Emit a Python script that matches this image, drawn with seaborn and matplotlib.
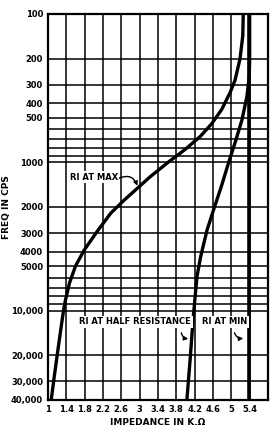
import matplotlib
matplotlib.use("Agg")
import matplotlib.pyplot as plt
import seaborn as sns
import pandas as pd

# ---- data ----
freq_max = [100, 140, 200, 280, 340, 440, 550, 670, 800, 870, 1000, 1250, 1800, 2200,
            2900, 3900, 5000, 6500, 8500, 9900, 14000, 19000, 28000, 40000]
imp_max = [5.26, 5.25, 5.19, 5.08, 4.97, 4.79, 4.57, 4.32, 4.03, 3.88, 3.62, 3.23, 2.66, 2.37,
           2.08, 1.79, 1.60, 1.47, 1.38, 1.34, 1.27, 1.21, 1.135, 1.07]

freq_half = [100, 200, 265, 360, 520, 740, 960, 1460, 2100, 2860, 4330, 5900, 11000, 21500, 40000]
imp_half = [5.40, 5.40, 5.39, 5.34, 5.23, 5.08, 4.96, 4.78, 4.61, 4.47, 4.33, 4.25, 4.17, 4.10, 4.03]

freq_min = [100, 40000]
imp_min = [5.395, 5.395]

x_ticks = [1, 1.4, 1.8, 2.2, 2.6, 3, 3.4, 3.8, 4.2, 4.6, 5, 5.4]
x_labels = ["1", "1.4", "1.8", "2.2", "2.6", "3", "3.4", "3.8", "4.2", "4.6", "5", "5.4"]
y_grid = [100, 200, 300, 400, 500, 600, 700, 800, 900, 1000, 2000, 3000, 4000, 5000,
          6000, 7000, 8000, 9000, 10000, 20000, 30000, 40000]
y_labels = ["100", "200", "300", "400", "500", "", "", "", "", "1000", "2000", "3000", "4000",
            "5000", "", "", "", "", "10,000", "20,000", "30,000", "40,000"]

sns.set_theme(style="white")
plt.rcParams['font.family'] = ['DejaVu Sans']

fig = plt.figure(figsize=(2.78, 4.38), dpi=100)
ax = fig.add_axes([48 / 278, 38 / 438, 220 / 278, 386 / 438])

ax.set_yscale("log")
ax.set_ylim(40000, 100)
ax.set_xlim(1, 5.8)

ax.set_yticks(y_grid)
ax.set_yticklabels(y_labels)
ax.minorticks_off()
ax.set_xticks(x_ticks)
ax.set_xticklabels(x_labels)

ax.grid(True, which="major", color="black", linewidth=1.1)
ax.set_axisbelow(True)
for s in ax.spines.values():
    s.set_color("black")
    s.set_linewidth(1.6)

ax.tick_params(axis="both", which="major", length=2, width=1, color="black",
               labelsize=6, pad=1.5, labelcolor="black")
for lab in ax.get_xticklabels() + ax.get_yticklabels():
    lab.set_fontweight("bold")

df_max = pd.DataFrame({"imp": imp_max, "freq": freq_max})
df_half = pd.DataFrame({"imp": imp_half, "freq": freq_half})
df_min = pd.DataFrame({"imp": imp_min, "freq": freq_min})
for d, lw in [(df_max, 2.4), (df_half, 2.4), (df_min, 2.6)]:
    sns.lineplot(data=d, x="imp", y="freq", sort=False, estimator=None, color="black",
                 linewidth=lw, ax=ax, zorder=5)

ax.set_xlabel("IMPEDANCE IN K.Ω", fontsize=6.5, fontweight="bold", color="black", labelpad=3)
ax.set_ylabel("FREQ IN CPS", fontsize=6.5, fontweight="bold", color="black")
ax.yaxis.set_label_coords(-0.17, 0.5)

bbox = dict(facecolor="white", edgecolor="none", pad=1.2)
tkw = dict(fontsize=6, fontweight="bold", color="black", ha="center", va="center",
           bbox=bbox, zorder=6)
ax.text(2.0, 1256, "RI AT MAX", **tkw)
ax.text(2.9, 11900, "RI AT HALF RESISTANCE", **tkw)
ax.text(4.86, 11900, "RI AT MIN", **tkw)

akw = dict(arrowstyle="-|>", color="black", lw=1, mutation_scale=6)
ax.annotate("", xy=(2.97, 1500), xytext=(2.5, 1300),
            arrowprops=dict(connectionstyle="arc3,rad=-0.6", **akw), zorder=7)
ax.annotate("", xy=(4.12, 15500), xytext=(3.9, 13500),
            arrowprops=dict(connectionstyle="arc3,rad=0.5", **akw), zorder=7)
ax.annotate("", xy=(5.32, 15300), xytext=(5.05, 13500),
            arrowprops=dict(connectionstyle="arc3,rad=0.5", **akw), zorder=7)

fig.savefig("out.png", dpi=100)
